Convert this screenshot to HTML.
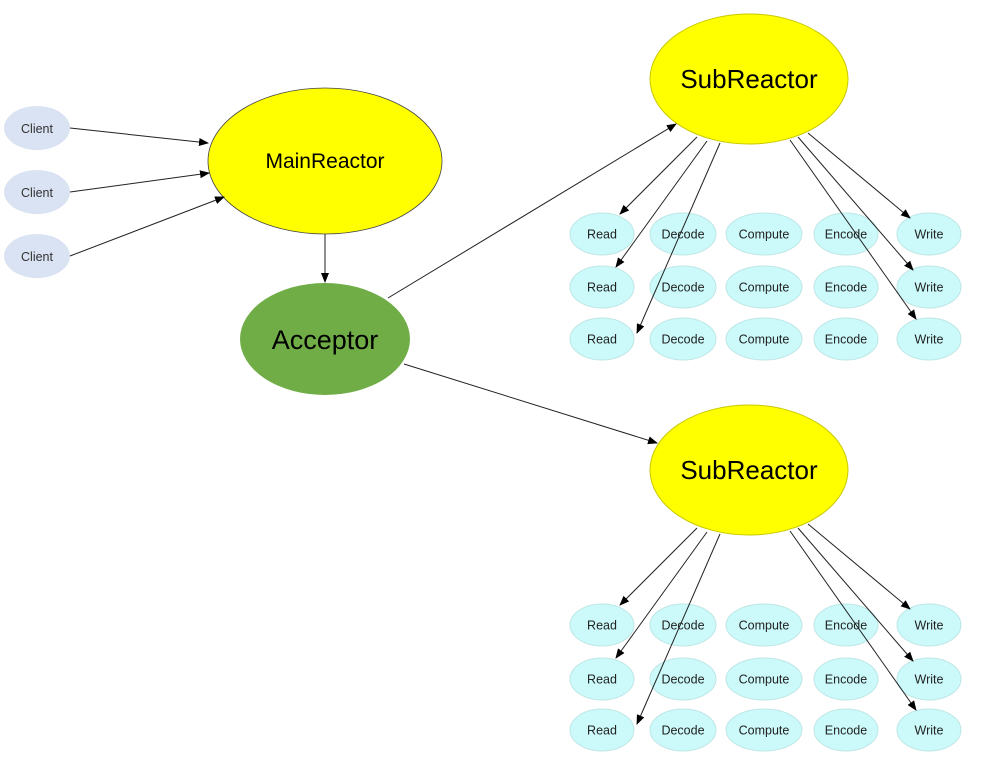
<!DOCTYPE html>
<html><head><meta charset="utf-8"><style>
html,body{margin:0;padding:0;background:#fff;}
svg{display:block;font-family:"Liberation Sans",Calibri,sans-serif;}
</style></head><body>
<svg width="981" height="760" viewBox="0 0 981 760" xmlns="http://www.w3.org/2000/svg">
<defs>
<marker id="a" markerWidth="10" markerHeight="8" refX="9" refY="4" orient="auto" markerUnits="userSpaceOnUse">
<path d="M0,0 L10,4 L0,8 z" fill="#000"/></marker>
<g id="row">
<ellipse cx="602" cy="0" rx="32" ry="21" fill="#ccfafa" stroke="#bfe6e6"/>
<ellipse cx="683" cy="0" rx="33" ry="21" fill="#ccfafa" stroke="#bfe6e6"/>
<ellipse cx="764" cy="0" rx="38" ry="21" fill="#ccfafa" stroke="#bfe6e6"/>
<ellipse cx="846" cy="0" rx="32" ry="21" fill="#ccfafa" stroke="#bfe6e6"/>
<ellipse cx="929" cy="0" rx="32" ry="21" fill="#ccfafa" stroke="#bfe6e6"/>
<g font-size="12.5" fill="#222" text-anchor="middle">
<text x="602" y="4.5">Read</text><text x="683" y="4.5">Decode</text><text x="764" y="4.5">Compute</text><text x="846" y="4.5">Encode</text><text x="929" y="4.5">Write</text></g>
</g>
<g id="sub">
<ellipse cx="749" cy="0" rx="99" ry="65" fill="#ffff00" stroke="#c8c800"/>
<text x="749" y="9" font-size="26" text-anchor="middle" fill="#000">SubReactor</text>
</g>
</defs>
<g fill="#dae3f3">
<ellipse cx="37" cy="128" rx="33" ry="22"/><ellipse cx="37" cy="192" rx="33" ry="22"/><ellipse cx="37" cy="256" rx="33" ry="22"/></g>
<g font-size="12.5" fill="#333" text-anchor="middle"><text x="37" y="133">Client</text><text x="37" y="197">Client</text><text x="37" y="261">Client</text></g>
<ellipse cx="325" cy="161" rx="117" ry="73" fill="#ffff00" stroke="#444" stroke-width="0.8"/>
<text x="325" y="168" font-size="21" text-anchor="middle">MainReactor</text>
<ellipse cx="325" cy="339" rx="85" ry="56" fill="#70ad47"/>
<text x="325" y="349" font-size="27" text-anchor="middle">Acceptor</text>
<use href="#sub" y="79"/>
<use href="#sub" y="470"/>
<use href="#row" y="234"/><use href="#row" y="287"/><use href="#row" y="339"/>
<use href="#row" y="625"/><use href="#row" y="679"/><use href="#row" y="730"/>
<g stroke="#222" stroke-width="1" fill="none" marker-end="url(#a)">
<line x1="70" y1="128" x2="208" y2="143"/>
<line x1="70" y1="192" x2="209" y2="173"/>
<line x1="70" y1="256" x2="224" y2="197"/>
<line x1="325" y1="234" x2="325" y2="282"/>
<line x1="388" y1="298" x2="676" y2="124"/>
<line x1="404" y1="364" x2="657" y2="443"/>
<line x1="697" y1="137" x2="620" y2="214"/>
<line x1="707" y1="141" x2="616" y2="267"/>
<line x1="720" y1="143" x2="637" y2="333"/>
<line x1="808" y1="133" x2="910" y2="218"/>
<line x1="798" y1="137" x2="913" y2="270"/>
<line x1="790" y1="140" x2="916" y2="319"/>
<line x1="697" y1="528" x2="620" y2="605"/>
<line x1="707" y1="532" x2="616" y2="658"/>
<line x1="720" y1="534" x2="637" y2="724"/>
<line x1="808" y1="524" x2="910" y2="609"/>
<line x1="798" y1="528" x2="913" y2="661"/>
<line x1="790" y1="531" x2="916" y2="710"/>
</g>
</svg>
</body></html>
